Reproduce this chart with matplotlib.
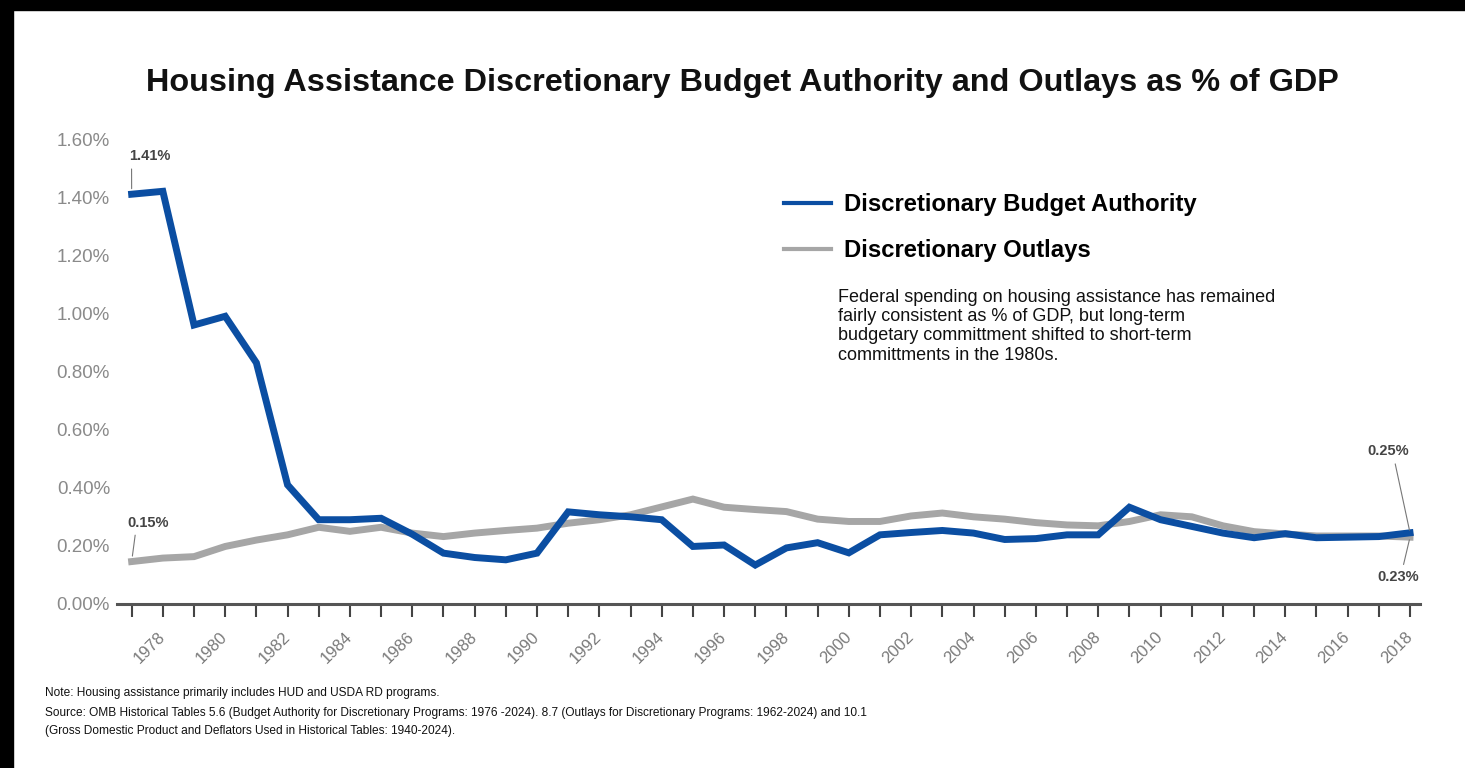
import matplotlib.pyplot as plt
from matplotlib.patches import Rectangle

years = list(range(1977, 2019))
budget_authority = [1.41, 1.42, 0.96, 0.99, 0.83, 0.41, 0.29, 0.29, 0.295, 0.24,
                    0.175, 0.16, 0.152, 0.175, 0.317, 0.307, 0.30, 0.29, 0.198, 0.203,
                    0.134, 0.193, 0.211, 0.176, 0.238, 0.246, 0.253, 0.244, 0.222, 0.225,
                    0.238, 0.238, 0.333, 0.29, 0.267, 0.244, 0.228, 0.242, 0.228, 0.23,
                    0.232, 0.245]
outlays = [0.146, 0.158, 0.163, 0.198, 0.22, 0.238, 0.264, 0.25, 0.264, 0.244,
           0.232, 0.244, 0.253, 0.261, 0.278, 0.29, 0.307, 0.334, 0.361, 0.333,
           0.325, 0.318, 0.292, 0.284, 0.284, 0.303, 0.313, 0.30, 0.292, 0.28,
           0.272, 0.269, 0.284, 0.307, 0.30, 0.269, 0.249, 0.241, 0.234, 0.234,
           0.234, 0.23]
y_ticks = [0.0, 0.2, 0.4, 0.6, 0.8, 1.0, 1.2, 1.4, 1.6]

BLUE = '#0b4ea2'
GRAY = '#a6a6a6'

plt.rcParams['font.family'] = ['Liberation Sans', 'DejaVu Sans']

fig = plt.figure(figsize=(14.65, 7.68), dpi=100)
ax = fig.add_axes([117 / 1465, 164 / 768, 1303 / 1465, 465 / 768])

ax.plot(years, budget_authority, color=BLUE, lw=5, solid_joinstyle='miter',
        label='Discretionary Budget Authority', zorder=3)
ax.plot(years, outlays, color=GRAY, lw=5, solid_joinstyle='miter',
        label='Discretionary Outlays', zorder=2)

ax.set_xlim(1976.53, 2018.32)
ax.set_ylim(0, 1.6)
ax.set_yticks(y_ticks)
ax.set_yticklabels([f'{v:.2f}%' for v in y_ticks], color='#8a8a8a', fontsize=13.5)
ax.tick_params(axis='y', length=0, pad=5)

ax.set_xticks(years)
ax.set_xticklabels([str(y) if y % 2 == 0 else '' for y in years],
                   rotation=45, ha='right', va='center', rotation_mode='anchor',
                   color='#7a7a7a', fontsize=12)
ax.tick_params(axis='x', length=9, width=1.5, color='#444444', pad=13)

for s in ['top', 'right', 'left']:
    ax.spines[s].set_visible(False)
ax.spines['bottom'].set_color('#555555')
ax.spines['bottom'].set_linewidth(2.2)

# value callouts
lead = dict(arrowstyle='-', color='#777777', lw=0.8)
ax.annotate('1.41%', xy=(years[0], budget_authority[0]), xytext=(1976.93, 1.54),
            ha='left', va='center', fontsize=10.5, fontweight='bold', color='#444444',
            arrowprops=dict(lead, relpos=(0.05, 0), shrinkA=2, shrinkB=4))
ax.annotate('0.15%', xy=(years[0], outlays[0]), xytext=(1976.87, 0.28),
            ha='left', va='center', fontsize=10.5, fontweight='bold', color='#444444',
            arrowprops=dict(lead, relpos=(0.2, 0), shrinkA=2, shrinkB=4))
ax.annotate('0.25%', xy=(years[-1], budget_authority[-1]), xytext=(2016.62, 0.525),
            ha='left', va='center', fontsize=10.5, fontweight='bold', color='#444444',
            arrowprops=dict(lead, relpos=(0.65, 0), shrinkA=2, shrinkB=2))
ax.annotate('0.23%', xy=(years[-1], outlays[-1]), xytext=(2016.95, 0.093),
            ha='left', va='center', fontsize=10.5, fontweight='bold', color='#444444',
            arrowprops=dict(lead, relpos=(0.6, 1), shrinkA=2, shrinkB=2))

leg = ax.legend(loc='upper left', bbox_to_anchor=(762 / 1465, 1 - 172 / 768),
                bbox_transform=fig.transFigure, frameon=False,
                handlelength=2.0, handletextpad=0.55, labelspacing=0.95,
                prop={'size': 17.2, 'weight': 'semibold'})
for ln in leg.get_lines():
    ln.set_linewidth(3)

fig.text(838 / 1465, 1 - 289 / 768,
         'Federal spending on housing assistance has remained\n'
         'fairly consistent as % of GDP, but long-term\n'
         'budgetary committment shifted to short-term\n'
         'committments in the 1980s.',
         ha='left', va='top', fontsize=13, color='#111111', linespacing=1.17)

fig.text(742 / 1465, 1 - 83 / 768,
         'Housing Assistance Discretionary Budget Authority and Outlays as % of GDP',
         ha='center', va='center', fontsize=23.3, fontweight='bold', color='#111111')

fig.text(45 / 1465, 1 - 693 / 768,
         'Note: Housing assistance primarily includes HUD and USDA RD programs.',
         ha='left', va='center', fontsize=8.6, color='#111111')
fig.text(45 / 1465, 1 - 713 / 768,
         'Source: OMB Historical Tables 5.6 (Budget Authority for Discretionary Programs: 1976 -2024). '
         '8.7 (Outlays for Discretionary Programs: 1962-2024) and 10.1',
         ha='left', va='center', fontsize=8.6, color='#111111')
fig.text(45 / 1465, 1 - 731 / 768,
         '(Gross Domestic Product and Deflators Used in Historical Tables: 1940-2024).',
         ha='left', va='center', fontsize=8.6, color='#111111')

# black frame on the top and left edges
fig.patches.append(Rectangle((0, 1 - 10 / 768), 1, 10 / 768, transform=fig.transFigure,
                             color='black', zorder=10))
fig.patches.append(Rectangle((0, 0), 13 / 1465, 1, transform=fig.transFigure,
                             color='black', zorder=10))

fig.savefig('out.png', dpi=100)
